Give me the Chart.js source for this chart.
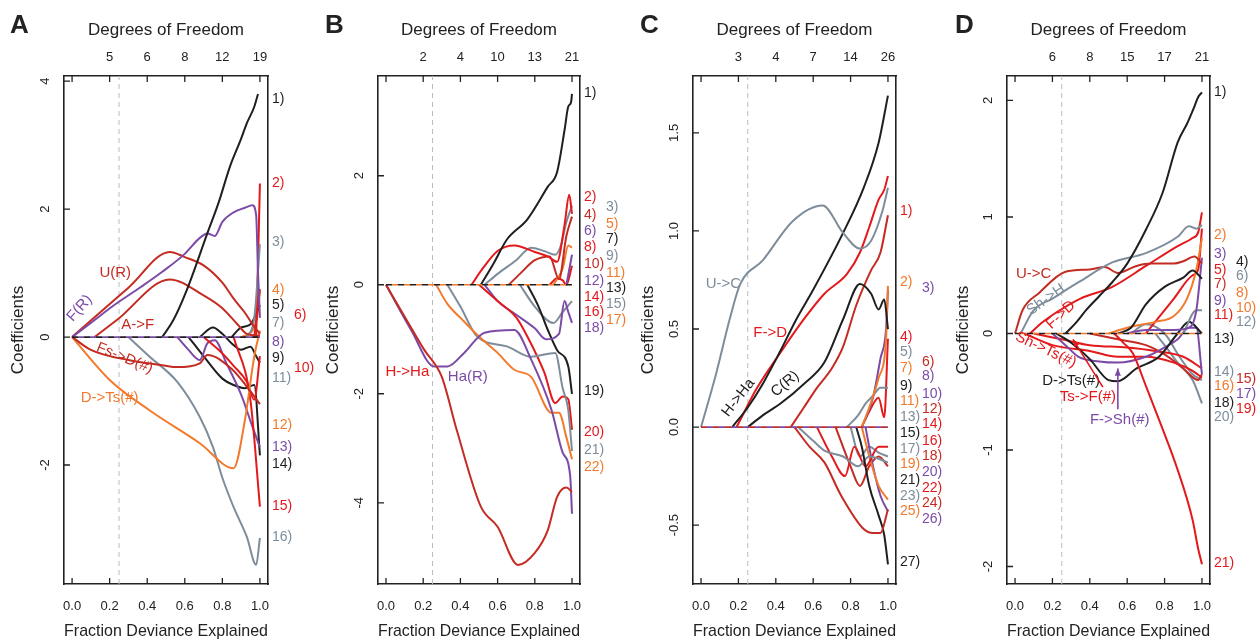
<!doctype html>
<html lang="en">
<head>
  <meta charset="utf-8" />
  <title>Coefficient paths</title>
  <style>
    html, body { margin: 0; padding: 0; background: #fff; }
    #wrap { position: relative; width: 1260px; height: 643px; overflow: hidden; }
    .panel { position: absolute; top: 0; width: 315px; height: 643px; }
  </style>
</head>
<body>
  <div id="wrap">
    <div class="panel" style="left:0px"><canvas id="cA" width="315" height="643"></canvas></div>
    <div class="panel" style="left:315px"><canvas id="cB" width="315" height="643"></canvas></div>
    <div class="panel" style="left:630px"><canvas id="cC" width="315" height="643"></canvas></div>
    <div class="panel" style="left:945px"><canvas id="cD" width="315" height="643"></canvas></div>
  </div>
  <script src="https://cdn.jsdelivr.net/npm/chart.js"></script>
  <script>
    // ---- shared axis values ----
    const fracTicks = [0, 0.2, 0.4, 0.6, 0.8, 1.0];
    const cutoff = 0.25;

    // ---- panel A ----
    const A_df = ['', '5', '6', '8', '12', '19'];
    const A_yTicks = [-2, 0, 2, 4];
    const A_yLabels = ['-2', '0', '2', '4'];
    const A_yRange = [-3.86, 4.08];
    const A_k1 = [[0.48,0],[0.54,0.27],[0.61,0.73],[0.72,1.62],[0.78,2.1],[0.84,2.66],[0.9,3.1],[0.93,3.34],[0.97,3.6],[0.99,3.8]];
    const A_p1 = [[0,0],[0.1,0.22],[0.21,0.47],[0.35,0.75],[0.48,1.02],[0.6,1.3],[0.68,1.55],[0.72,1.62],[0.76,1.58],[0.8,1.8],[0.86,1.95],[0.92,2.02],[0.96,2.06],[0.98,1.9],[0.99,1.0],[1.0,0.3]];
    const A_dr1 = [[0,0],[0.1,0.26],[0.3,0.77],[0.52,1.33],[0.6,1.25],[0.7,1.12],[0.8,0.85],[0.86,0.6],[0.92,0.38],[0.96,0.2],[1.0,0.05]];
    const A_dr2 = [[0.12,0],[0.24,0.27],[0.52,0.9],[0.7,0.65],[0.8,0.45],[0.88,0.2],[0.93,0.05],[1.0,0.02]];
    const A_dr3 = [[0,0],[0.1,-0.2],[0.3,-0.36],[0.48,-0.44],[0.56,-0.47],[0.68,-0.41],[0.72,-0.28],[0.85,-0.5],[0.95,-0.85],[1.0,-1.05]];
    const A_o1 = [[0,0],[0.2,-0.67],[0.41,-1.14],[0.68,-1.66],[0.86,-2.05],[0.92,-1.3],[0.97,-0.3],[1.0,0.1]];
    const A_g1 = [[0.3,0],[0.41,-0.3],[0.56,-0.7],[0.68,-1.25],[0.75,-1.72],[0.8,-2.2],[0.86,-2.66],[0.93,-3.12],[0.98,-3.56],[1.0,-3.14]];
    const A_g2 = [[0.93,0],[0.97,0.3],[1.0,1.45]];
    const A_r1 = [[0.98,0],[1.0,2.4]];
    const A_r2 = [[0.86,0],[0.95,-1.0],[1.0,-2.65]];
    const A_r3 = [[0.7,0],[0.78,-0.2],[0.86,-0.45],[0.93,-0.7],[0.97,-0.98],[1.0,-0.3]];
    const A_r4 = [[0.97,0],[1.0,0.75]];
    const A_p2 = [[0.56,0],[0.62,-0.2],[0.68,-0.36],[0.72,-0.1],[0.76,-0.05],[0.82,-0.4],[0.9,-0.9],[0.96,-1.4],[1.0,-1.72]];
    const A_k2 = [[0.62,0],[0.7,-0.3],[0.8,-0.65],[0.86,-0.75],[0.92,-0.8],[0.97,-0.75],[1.0,-1.85]];
    const A_k3 = [[0.68,0],[0.75,0.15],[0.8,0.05],[0.85,-0.1],[0.9,-0.2],[0.95,-0.15],[0.98,-0.3],[1.0,-0.4]];
    const A_k4 = [[0.85,0],[0.9,0.15],[0.95,0.2],[1.0,0.5]];
    const A_o2 = [[0.9,0],[0.96,0.1],[0.99,0.4],[1.0,0.73]];
    const A_series = [['k',A_k1],['p',A_p1],['dr',A_dr1],['dr',A_dr2],['dr',A_dr3],['o',A_o1],['g',A_g1],['g',A_g2],['r',A_r1],['r',A_r2],['r',A_r3],['r',A_r4],['p',A_p2],['k',A_k2],['k',A_k3],['k',A_k4],['o',A_o2]];
    const A_tags = [['1)',3.72,'k',0],['2)',2.4,'r',0],['3)',1.48,'g',0],['4)',0.73,'o',0],['5)',0.5,'k',0],['6)',0.34,'r',1],['7)',0.22,'g',0],['8)',-0.08,'p',0],['9)',-0.33,'k',0],['10)',-0.49,'r',1],['11)',-0.64,'g',0],['12)',-1.38,'o',0],['13)',-1.72,'p',0],['14)',-1.98,'k',0],['15)',-2.65,'r',0],['16)',-3.12,'g',0]];
    const A_notes = [['U(R)',0.23,1.0,'dr',0],['F(R)',0.04,0.45,'p',-48],['A->F',0.35,0.19,'dr',0],['Fs->D(#)',0.28,-0.33,'dr',22],['D->Ts(#)',0.2,-0.95,'o',0]];

    // ---- panel B ----
    const B_df = ['', '2', '4', '10', '13', '21'];
    const B_yTicks = [-4, -2, 0, 2];
    const B_yLabels = ['-4', '-2', '0', '2'];
    const B_yRange = [-5.49, 3.83];
    const B_k1 = [[0.51,0],[0.58,0.4],[0.65,0.83],[0.76,1.2],[0.87,1.8],[0.92,2.07],[0.96,2.84],[0.98,3.27],[0.995,3.35],[1.0,3.5]];
    const B_r1 = [[0.46,0],[0.52,0.3],[0.6,0.62],[0.69,0.72],[0.8,0.6],[0.87,0.52],[0.92,0.42],[0.96,1.1],[0.985,1.65],[1.0,1.3]];
    const B_g1 = [[0.53,0],[0.6,0.2],[0.7,0.45],[0.78,0.68],[0.85,0.62],[0.91,0.55],[0.94,0.72],[0.97,1.15],[1.0,1.45]];
    const B_dr1 = [[0.66,0],[0.72,0.2],[0.8,0.45],[0.88,0.52],[0.93,0.1],[0.97,0.9],[1.0,1.25]];
    const B_o1 = [[0.9,0],[0.95,0.3],[0.98,0.72],[1.0,0.68]];
    const B_p1 = [[0.97,0],[1.0,0.55]];
    const B_r2 = [[0.88,0],[0.92,0.12],[0.95,0.08],[0.97,0.0],[1.0,0.35]];
    const B_dr2 = [[0,0],[0.11,-0.64],[0.205,-1.19],[0.3,-1.69],[0.38,-2.66],[0.51,-4.07],[0.6,-4.44],[0.71,-5.14],[0.8,-4.92],[0.87,-4.5],[0.92,-3.89],[0.97,-3.72],[1.0,-3.8]];
    const B_p2 = [[0,0],[0.135,-0.83],[0.26,-1.5],[0.33,-1.5],[0.42,-1.25],[0.53,-0.88],[0.69,-0.83],[0.78,-1.37],[0.89,-2.3],[0.95,-3.08],[0.99,-3.5],[1.0,-4.2]];
    const B_o2 = [[0.27,0],[0.33,-0.35],[0.41,-0.64],[0.5,-0.95],[0.6,-1.25],[0.69,-1.56],[0.78,-1.69],[0.89,-2.35],[0.93,-2.35],[0.97,-2.8],[1.0,-3.2]];
    const B_g2 = [[0.33,0],[0.4,-0.4],[0.49,-0.95],[0.65,-1.13],[0.78,-1.32],[0.91,-1.25],[0.95,-1.9],[0.98,-2.3],[1.0,-3.05]];
    const B_r3 = [[0.5,0],[0.6,-0.3],[0.7,-0.6],[0.76,-0.95],[0.85,-1.6],[0.91,-2.17],[0.95,-2.05],[0.98,-2.1],[1.0,-2.66]];
    const B_p3 = [[0.53,0],[0.6,-0.3],[0.7,-0.55],[0.8,-0.8],[0.86,-1.0],[0.93,-0.9],[0.96,-0.3],[0.98,-0.5],[1.0,-0.7]];
    const B_k2 = [[0.76,0],[0.82,-0.4],[0.87,-0.83],[0.92,-1.2],[0.98,-1.5],[1.0,-2.0]];
    const B_g3 = [[0.72,0],[0.8,-0.4],[0.9,-0.7],[0.95,-0.5],[1.0,-0.3]];
    const B_series = [['k',B_k1],['r',B_r1],['g',B_g1],['dr',B_dr1],['o',B_o1],['p',B_p1],['r',B_r2],['dr',B_dr2],['p',B_p2],['o',B_o2],['g',B_g2],['r',B_r3],['p',B_p3],['k',B_k2],['g',B_g3]];
    const B_tags = [['1)',3.52,'k',0],['2)',1.6,'r',0],['3)',1.43,'g',1],['4)',1.27,'dr',0],['5)',1.12,'o',1],['6)',0.99,'p',0],['7)',0.84,'k',1],['8)',0.69,'r',0],['9)',0.53,'g',1],['10)',0.37,'dr',0],['11)',0.22,'o',1],['12)',0.07,'p',0],['13)',-0.07,'k',1],['14)',-0.22,'r',0],['15)',-0.35,'g',1],['16)',-0.51,'r',0],['17)',-0.64,'o',1],['18)',-0.79,'p',0],['19)',-1.96,'k',0],['20)',-2.7,'r',0],['21)',-3.03,'g',0],['22)',-3.34,'o',0]];
    const B_notes = [['H->Ha',0.115,-1.6,'r',0],['Ha(R)',0.44,-1.69,'p',0]];

    // ---- panel C ----
    const C_df = ['', '3', '4', '7', '14', '26'];
    const C_yTicks = [-0.5, 0, 0.5, 1.0, 1.5];
    const C_yLabels = ['-0.5', '0.0', '0.5', '1.0', '1.5'];
    const C_yRange = [-0.80, 1.79];
    const C_g1 = [[0,0],[0.08,0.27],[0.156,0.56],[0.21,0.73],[0.33,0.85],[0.49,1.05],[0.65,1.13],[0.76,0.99],[0.85,0.91],[0.91,0.95],[0.97,1.1],[1.0,1.22]];
    const C_k1 = [[0.167,0],[0.25,0.1],[0.33,0.22],[0.42,0.38],[0.51,0.55],[0.6,0.7],[0.76,0.99],[0.87,1.22],[0.95,1.45],[1.0,1.69]];
    const C_r1 = [[0.19,0],[0.3,0.2],[0.425,0.38],[0.55,0.55],[0.66,0.68],[0.78,0.78],[0.85,0.89],[0.9,1.02],[0.95,1.16],[0.98,1.21],[1.0,1.28]];
    const C_k2 = [[0.25,0],[0.33,0.06],[0.425,0.12],[0.55,0.22],[0.66,0.33],[0.76,0.55],[0.85,0.73],[0.91,0.68],[0.95,0.6],[0.98,0.65],[1.0,0.5]];
    const C_dr1 = [[0.48,0],[0.55,0.1],[0.62,0.2],[0.7,0.3],[0.76,0.41],[0.83,0.62],[0.91,0.8],[0.96,0.89],[1.0,1.08]];
    const C_o1 = [[0.86,0],[0.9,0.1],[0.95,0.25],[0.99,0.45],[1.0,0.72]];
    const C_p1 = [[0.86,0],[0.92,0.15],[0.96,0.35],[0.99,0.5],[1.0,0.7]];
    const C_g2 = [[0.78,0],[0.84,0.06],[0.88,0.12],[0.92,0.16],[0.96,0.2],[1.0,0.2]];
    const C_r2 = [[0.86,0],[0.9,0.08],[0.95,0.15],[0.98,0.05],[1.0,0.45]];
    const C_dr2 = [[0.5,0],[0.58,-0.1],[0.66,-0.18],[0.75,-0.35],[0.87,-0.52],[0.92,-0.54],[0.96,-0.54],[1.0,-0.42]];
    const C_k3 = [[0.83,0],[0.86,-0.1],[0.9,-0.3],[0.95,-0.45],[0.98,-0.55],[1.0,-0.7]];
    const C_g3 = [[0.52,0],[0.6,-0.07],[0.66,-0.12],[0.76,-0.15],[0.84,-0.2],[0.9,-0.15],[1.0,-0.18]];
    const C_r3 = [[0.62,0],[0.7,-0.15],[0.77,-0.25],[0.82,-0.1],[0.88,-0.2],[0.95,-0.1],[1.0,-0.1]];
    const C_o2 = [[0.86,0],[0.9,-0.15],[0.95,-0.3],[1.0,-0.37]];
    const C_p2 = [[0.88,0],[0.92,-0.2],[0.96,-0.35],[1.0,-0.43]];
    const C_g4 = [[0.8,0],[0.85,-0.15],[0.9,-0.1],[0.95,-0.13],[1.0,-0.15]];
    const C_dr3 = [[0.72,0],[0.8,-0.2],[0.85,-0.3],[0.9,-0.2],[0.95,-0.15],[1.0,-0.2]];
    const C_series = [['g',C_g1],['k',C_k1],['r',C_r1],['k',C_k2],['dr',C_dr1],['o',C_o1],['p',C_p1],['g',C_g2],['r',C_r2],['dr',C_dr2],['k',C_k3],['g',C_g3],['r',C_r3],['o',C_o2],['p',C_p2],['g',C_g4],['dr',C_dr3]];
    const C_tags = [['1)',1.1,'r',0],['2)',0.74,'o',0],['3)',0.71,'p',1],['4)',0.46,'r',0],['5)',0.38,'g',0],['6)',0.33,'dr',1],['7)',0.3,'o',0],['8)',0.26,'p',1],['9)',0.21,'k',0],['10)',0.17,'p',1],['11)',0.13,'o',0],['12)',0.09,'dr',1],['13)',0.05,'g',0],['14)',0.015,'r',1],['15)',-0.03,'k',0],['16)',-0.07,'r',1],['17)',-0.11,'g',0],['18)',-0.15,'dr',1],['19)',-0.19,'o',0],['20)',-0.23,'p',1],['21)',-0.27,'k',0],['22)',-0.31,'r',1],['23)',-0.35,'g',0],['24)',-0.39,'dr',1],['25)',-0.43,'o',0],['26)',-0.47,'p',1],['27)',-0.69,'k',0]];
    const C_notes = [['U->C',0.12,0.73,'g',0],['F->D',0.37,0.48,'r',0],['H->Ha',0.2,0.15,'k',-52],['C(R)',0.45,0.22,'k',-40]];

    // ---- panel D ----
    const D_df = ['', '6', '8', '15', '17', '21'];
    const D_yTicks = [-2, -1, 0, 1, 2];
    const D_yLabels = ['-2', '-1', '0', '1', '2'];
    const D_yRange = [-2.15, 2.21];
    const D_k1 = [[0.27,0],[0.33,0.1],[0.38,0.2],[0.45,0.32],[0.52,0.44],[0.6,0.6],[0.7,0.89],[0.79,1.21],[0.87,1.64],[0.92,1.8],[0.96,1.95],[0.98,2.03],[1.0,2.07]];
    const D_g1 = [[0.03,0],[0.1,0.2],[0.2,0.3],[0.34,0.44],[0.52,0.61],[0.7,0.69],[0.87,0.83],[0.93,0.92],[0.97,0.9],[1.0,0.93]];
    const D_dr1 = [[0,0],[0.04,0.2],[0.13,0.35],[0.27,0.53],[0.4,0.55],[0.48,0.57],[0.55,0.52],[0.65,0.58],[0.73,0.6],[0.85,0.6],[0.9,0.62],[0.96,0.66],[1.0,0.6]];
    const D_r1 = [[0.08,0],[0.15,0.1],[0.22,0.18],[0.35,0.3],[0.52,0.4],[0.7,0.58],[0.87,0.75],[0.95,0.82],[0.98,0.87],[1.0,1.04]];
    const D_k2 = [[0.55,0],[0.62,0.05],[0.7,0.25],[0.8,0.4],[0.9,0.48],[0.95,0.54],[1.0,0.47]];
    const D_o1 = [[0.5,0],[0.6,0.05],[0.75,0.1],[0.85,0.15],[0.92,0.3],[0.97,0.55],[1.0,0.82]];
    const D_p1 = [[0.6,0],[0.7,0.03],[0.85,0.03],[0.93,0.05],[0.97,0.2],[1.0,0.65]];
    const D_r2 = [[0.7,0],[0.85,0.3],[0.95,0.5],[0.98,0.55],[1.0,0.9]];
    const D_g2 = [[0.9,0],[0.97,0.2],[1.0,0.2]];
    const D_r21 = [[0.53,0],[0.58,-0.08],[0.63,-0.17],[0.7,-0.45],[0.78,-0.78],[0.87,-1.17],[0.95,-1.6],[0.98,-1.85],[1.0,-1.98]];
    const D_k3 = [[0.22,0],[0.3,-0.08],[0.4,-0.22],[0.5,-0.4],[0.55,-0.41],[0.65,-0.3],[0.77,-0.2],[0.87,0.0],[0.93,0.1],[1.0,0.0]];
    const D_p2 = [[0.2,0],[0.27,-0.1],[0.34,-0.2],[0.45,-0.24],[0.55,-0.25],[0.7,-0.2],[0.8,-0.12],[0.87,-0.05],[0.93,0.05],[0.97,0.05],[1.0,-0.35]];
    const D_r3 = [[0.05,0],[0.2,-0.1],[0.4,-0.15],[0.55,-0.2],[0.7,-0.2],[0.85,-0.25],[0.95,-0.32],[1.0,-0.38]];
    const D_r4 = [[0.1,0],[0.25,-0.05],[0.4,-0.1],[0.6,-0.12],[0.75,-0.15],[0.9,-0.2],[1.0,-0.3]];
    const D_dr2 = [[0.4,0],[0.55,-0.05],[0.7,-0.1],[0.8,-0.18],[0.9,-0.3],[0.98,-0.4],[1.0,-0.35]];
    const D_g3 = [[0.75,0],[0.8,-0.1],[0.87,-0.25],[0.95,-0.4],[1.0,-0.6]];
    const D_g4 = [[0.62,0],[0.7,0.08],[0.8,0.0],[0.88,-0.2],[0.95,-0.35],[1.0,-0.4]];
    const D_series = [['k',D_k1],['g',D_g1],['dr',D_dr1],['r',D_r1],['k',D_k2],['o',D_o1],['p',D_p1],['r',D_r2],['g',D_g2],['r',D_r21],['k',D_k3],['p',D_p2],['r',D_r3],['r',D_r4],['dr',D_dr2],['g',D_g3],['g',D_g4]];
    const D_tags = [['1)',2.07,'k',0],['2)',0.84,'o',0],['3)',0.68,'p',0],['4)',0.61,'k',1],['5)',0.54,'r',0],['6)',0.49,'g',1],['7)',0.42,'dr',0],['8)',0.35,'o',1],['9)',0.28,'p',0],['10)',0.22,'o',1],['11)',0.16,'r',0],['12)',0.1,'g',1],['13)',-0.05,'k',0],['14)',-0.33,'g',0],['15)',-0.39,'dr',1],['16)',-0.45,'o',0],['17)',-0.52,'p',1],['18)',-0.6,'k',0],['19)',-0.65,'r',1],['20)',-0.72,'g',0],['21)',-1.97,'r',0]];
    const D_notes = [['U->C',0.1,0.51,'dr',0],['Sh->H',0.165,0.29,'g',-35],['F->D',0.245,0.16,'r',-43],['Sh->Ts(#)',0.165,-0.14,'r',25],['D->Ts(#)',0.3,-0.41,'k',0],['Ts->F(#)',0.39,-0.54,'r',0],['F->Sh(#)',0.56,-0.74,'p',0]];
    const D_arrows = [[[0.47,-0.46],[0.31,-0.05],'r'],[[0.55,-0.65],[0.55,-0.3],'p']];

    // ---- styling ----
    const FONT = "'Liberation Sans', Arial, Helvetica, sans-serif";
    const INK = '#222';
    const COL = { k: '#1f1f1f', r: '#e3191c', dr: '#c42b22', o: '#f27a2c', p: '#7b4ba6', g: '#7e8d9b' };
    const XMIN = -0.043, XMAX = 1.043;
    Chart.defaults.font.family = FONT;
    Chart.defaults.color = INK;

    const PANELS = [
      { id: 'cA', letter: 'A', left: 64, right: 47, yr: A_yRange, yt: A_yTicks, yl: A_yLabels, df: A_df, series: A_series, tags: A_tags, notes: A_notes, arrows: [], zero: ['k', 'p'] },
      { id: 'cB', letter: 'B', left: 63, right: 50, yr: B_yRange, yt: B_yTicks, yl: B_yLabels, df: B_df, series: B_series, tags: B_tags, notes: B_notes, arrows: [], zero: ['k', 'o'] },
      { id: 'cC', letter: 'C', left: 63, right: 49, yr: C_yRange, yt: C_yTicks, yl: C_yLabels, df: C_df, series: C_series, tags: C_tags, notes: C_notes, arrows: [], zero: ['dr', 'p'] },
      { id: 'cD', letter: 'D', left: 62, right: 50, yr: D_yRange, yt: D_yTicks, yl: D_yLabels, df: D_df, series: D_series, tags: D_tags, notes: D_notes, arrows: D_arrows, zero: ['k', 'o'] }
    ];

    function decor(P) {
      return {
        id: 'decor' + P.letter,
        afterDraw(chart) {
          const ctx = chart.ctx, ca = chart.chartArea;
          const sx = chart.scales.x, sx2 = chart.scales.x2, sy = chart.scales.y;
          ctx.save();
          // inward tick marks
          ctx.strokeStyle = INK; ctx.lineWidth = 1.3;
          ctx.beginPath();
          sx.ticks.forEach(t => { const p = sx.getPixelForValue(t.value); ctx.moveTo(p, ca.bottom); ctx.lineTo(p, ca.bottom - 6); });
          sx2.ticks.forEach(t => { const p = sx2.getPixelForValue(t.value); ctx.moveTo(p, ca.top); ctx.lineTo(p, ca.top + 6); });
          sy.ticks.forEach(t => { const p = sy.getPixelForValue(t.value); ctx.moveTo(ca.left, p); ctx.lineTo(ca.left + 6, p); });
          ctx.stroke();
          // y tick labels, turned like R draws them
          ctx.fillStyle = INK; ctx.font = '13px ' + FONT;
          ctx.textAlign = 'center'; ctx.textBaseline = 'middle';
          sy.ticks.forEach((t, i) => {
            const p = sy.getPixelForValue(t.value);
            ctx.save(); ctx.translate(ca.left - 19, p); ctx.rotate(-Math.PI / 2);
            ctx.fillText(P.yl[i], 0, 0); ctx.restore();
          });
          // panel letter
          ctx.font = 'bold 26px ' + FONT; ctx.textAlign = 'left'; ctx.textBaseline = 'alphabetic';
          ctx.fillText(P.letter, 10, 33);
          // numbered labels on the right
          ctx.font = '14px ' + FONT; ctx.textBaseline = 'middle';
          P.tags.forEach(([txt, v, c, col]) => {
            ctx.fillStyle = COL[c];
            ctx.fillText(txt, ca.right + (col ? 26 : 4), sy.getPixelForValue(v));
          });
          // in-plot notes
          ctx.font = '15px ' + FONT; ctx.textAlign = 'center';
          P.notes.forEach(([txt, x, y, c, rot]) => {
            ctx.save();
            ctx.translate(sx.getPixelForValue(x), sy.getPixelForValue(y));
            ctx.rotate(rot * Math.PI / 180);
            ctx.fillStyle = COL[c];
            ctx.fillText(txt, 0, 0);
            ctx.restore();
          });
          // pointer arrows
          P.arrows.forEach(([a, b, c]) => {
            const x1 = sx.getPixelForValue(a[0]), y1 = sy.getPixelForValue(a[1]);
            const x2 = sx.getPixelForValue(b[0]), y2 = sy.getPixelForValue(b[1]);
            const ang = Math.atan2(y2 - y1, x2 - x1);
            ctx.strokeStyle = COL[c]; ctx.fillStyle = COL[c]; ctx.lineWidth = 1.6;
            ctx.beginPath(); ctx.moveTo(x1, y1); ctx.lineTo(x2, y2); ctx.stroke();
            ctx.beginPath(); ctx.moveTo(x2, y2);
            ctx.lineTo(x2 - 8 * Math.cos(ang - 0.4), y2 - 8 * Math.sin(ang - 0.4));
            ctx.lineTo(x2 - 8 * Math.cos(ang + 0.4), y2 - 8 * Math.sin(ang + 0.4));
            ctx.closePath(); ctx.fill();
          });
          ctx.restore();
        }
      };
    }

    function scalesFor(P) {
      const [ymin, ymax] = P.yr;
      const edge = { display: true, color: INK, width: 1.6 };
      return {
        x: {
          type: 'linear', position: 'bottom', min: XMIN, max: XMAX,
          afterBuildTicks: s => { s.ticks = fracTicks.map(v => ({ value: v })); },
          afterFit: s => { s.height = 59; },
          ticks: { autoSkip: false, maxRotation: 0, minRotation: 0, padding: 15, color: INK, font: { size: 13 }, callback: v => Number(v).toFixed(1) },
          grid: { display: false, drawTicks: false }, border: edge,
          title: { display: true, text: 'Fraction Deviance Explained', color: INK, font: { size: 17 }, padding: { top: 0, bottom: 1 } }
        },
        x2: {
          type: 'linear', position: 'top', min: XMIN, max: XMAX,
          afterBuildTicks: s => { s.ticks = fracTicks.map(v => ({ value: v })); },
          afterFit: s => { s.height = 76; },
          ticks: { autoSkip: false, maxRotation: 0, minRotation: 0, padding: 11, color: INK, font: { size: 13 }, callback: (v, i) => P.df[i] },
          grid: { display: false, drawTicks: false }, border: edge,
          title: { display: true, text: 'Degrees of Freedom', color: INK, font: { size: 17 }, padding: { top: 20, bottom: 0 } }
        },
        y: {
          type: 'linear', position: 'left', min: ymin, max: ymax,
          afterBuildTicks: s => { s.ticks = P.yt.map(v => ({ value: v })); },
          afterFit: s => { s.width = P.left; },
          ticks: { display: false }, grid: { display: false, drawTicks: false }, border: edge,
          title: { display: true, text: 'Coefficients', color: INK, font: { size: 17 }, padding: { top: 8, bottom: 0 } }
        },
        y2: {
          type: 'linear', position: 'right', min: ymin, max: ymax,
          afterFit: s => { s.width = P.right; },
          ticks: { display: false }, grid: { display: false, drawTicks: false }, border: edge
        }
      };
    }

    function datasetsFor(P) {
      const [ymin, ymax] = P.yr;
      const ds = P.series.map(([c, pts]) => ({
        data: pts, borderColor: COL[c], borderWidth: 2, pointRadius: 0,
        cubicInterpolationMode: 'monotone', order: 1
      }));
      ds.push({ data: [[cutoff, ymin], [cutoff, ymax]], borderColor: '#b7bec6', borderWidth: 1, borderDash: [5, 4], pointRadius: 0, order: 5 });
      ds.push({ data: [[0, 0], [1, 0]], borderColor: COL[P.zero[0]], borderWidth: 1.7, borderDash: [6, 6], pointRadius: 0, order: 0 });
      ds.push({ data: [[0, 0], [1, 0]], borderColor: COL[P.zero[1]], borderWidth: 1.7, borderDash: [6, 6], borderDashOffset: 6, pointRadius: 0, order: 0 });
      return ds;
    }

    PANELS.forEach(P => {
      new Chart(document.getElementById(P.id), {
        type: 'line',
        data: { datasets: datasetsFor(P) },
        options: {
          responsive: false, animation: false,
          layout: { padding: 0 },
          plugins: { legend: { display: false }, tooltip: { enabled: false } },
          scales: scalesFor(P)
        },
        plugins: [decor(P)]
      });
    });
  </script>
</body>
</html>
